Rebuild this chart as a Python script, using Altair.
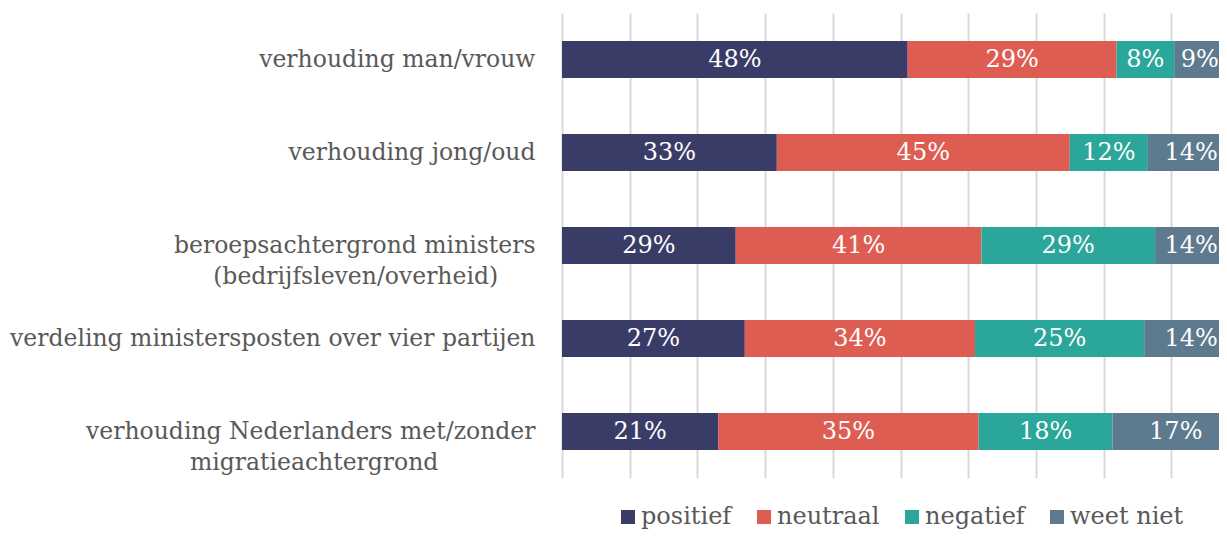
import altair as alt
import pandas as pd

categories = [
    "verhouding man/vrouw",
    "verhouding jong/oud",
    "beroepsachtergrond ministers|(bedrijfsleven/overheid)",
    "verdeling ministersposten over vier partijen",
    "verhouding Nederlanders met/zonder|migratieachtergrond",
]
series = ["positief", "neutraal", "negatief", "weet niet"]
positief = [48, 33, 29, 27, 21]
neutraal = [29, 45, 41, 34, 35]
negatief = [8, 12, 29, 25, 18]
weet_niet = [9, 14, 14, 14, 17]
colors = ["#3A3C68", "#DE5D52", "#2AA69A", "#5E7A8E"]
grid_values = [0, 0.1, 0.2, 0.3, 0.4, 0.5, 0.6, 0.7, 0.8, 0.9]

# second lines of two-line labels get trailing no-break spaces (closed by a
# zero-width space so they are not trimmed) so they sit centred under line one
NBSP = "\u00a0"
ZWSP = "\u200b"
second_line_pad = {2: 5, 4: 13}
display = []
for i, c in enumerate(categories):
    n = second_line_pad.get(i, 0)
    display.append(c + (NBSP * n + ZWSP if n else ""))

rows = []
for si, (name, vals) in enumerate(zip(series, [positief, neutraal, negatief, weet_niet])):
    for ci, cat in enumerate(display):
        rows.append({"cat": cat, "series": name, "value": vals[ci], "order": si})
df = pd.DataFrame(rows)

FONT = "DejaVu Serif"
PLOT_W = 657
FULL_W = 677
VMAX = PLOT_W / FULL_W

base = alt.Chart(df).transform_stack(
    stack="value",
    groupby=["cat"],
    as_=["x0", "x1"],
    offset="normalize",
    sort=[alt.SortField("order", order="ascending")],
).transform_calculate(
    label="datum.value + '%'",
).transform_calculate(
    mid=f"min((datum.x0 + datum.x1) / 2, {VMAX} - (length(datum.label) * 8.6 + 2) / {FULL_W})",
)

yenc = alt.Y(
    "cat:N",
    sort=display,
    scale=alt.Scale(paddingInner=0.6, paddingOuter=0.3),
    axis=alt.Axis(
        title=None,
        domain=False,
        ticks=False,
        labelFont=FONT,
        labelFontSize=23.5,
        labelColor="#595959",
        labelPadding=27,
        labelLimit=700,
        labelLineHeight=31,
        labelExpr="split(datum.label, '|')",
    ),
)

bars = base.mark_bar(clip=True).encode(
    y=yenc,
    x=alt.X(
        "x0:Q",
        scale=alt.Scale(domain=[0, VMAX], nice=False, zero=True),
        axis=alt.Axis(
            title=None,
            values=grid_values,
            grid=True,
            gridColor="#D9D9D9",
            gridWidth=2,
            labels=False,
            ticks=False,
            domain=False,
        ),
    ),
    x2="x1:Q",
    color=alt.Color(
        "series:N",
        scale=alt.Scale(domain=series, range=colors),
        legend=alt.Legend(
            title=None,
            orient="none",
            direction="horizontal",
            legendX=54,
            legendY=492,
            symbolType="square",
            symbolSize=196,
            symbolStrokeWidth=0,
            labelFont=FONT,
            labelFontSize=24,
            labelColor="#595959",
            labelOffset=1,
            columnPadding=20,
        ),
    ),
    order=alt.Order("order:Q"),
)

texts = base.mark_text(color="white", font=FONT, fontSize=24).encode(
    y=alt.Y("cat:N", sort=display),
    x=alt.X("mid:Q"),
    text="label:N",
)

chart = alt.layer(bars, texts).properties(
    width=PLOT_W,
    height=465,
    autosize=alt.AutoSizeParams(type="none"),
    padding={"left": 554, "top": 5, "right": 0, "bottom": 55},
).configure_view(stroke=None)

chart.save("out.html", embed_options={"renderer": "svg", "actions": False})
